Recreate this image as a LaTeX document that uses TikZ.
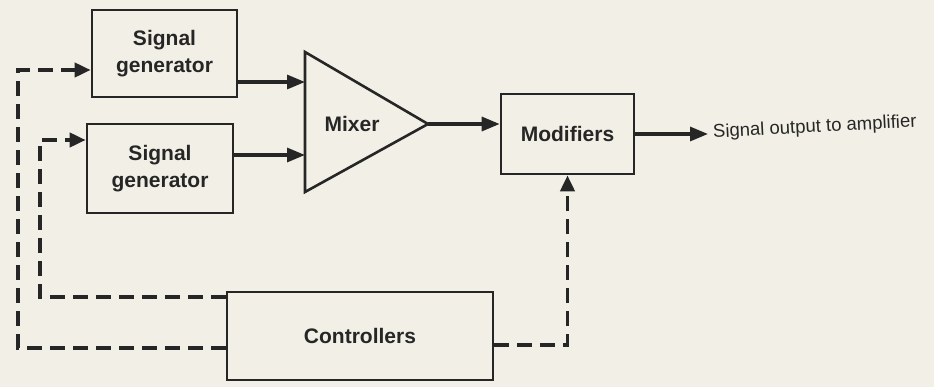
\documentclass[tikz,border=0pt]{standalone}
\usepackage{fontspec}
\setmainfont{Liberation Sans}
\usetikzlibrary{arrows.meta}
\definecolor{paper}{RGB}{242,240,230}
\definecolor{ink}{RGB}{38,38,38}
\tikzset{
  blk/.style={draw=ink, line width=2.6pt, minimum width=#1, align=center, text=ink,
              font=\bfseries\fontsize{21}{27}\selectfont, inner sep=0pt},
  arr/.style={draw=ink, line width=3.2pt, -{Triangle[length=18pt,width=14pt]}},
  dasharr/.style={draw=ink, line width=3.8pt, dash pattern=on 15pt off 8pt,
                  -{Triangle[length=16pt,width=14pt]}}
}
\begin{document}
\begin{tikzpicture}[x=1pt,y=-1pt]
\fill[paper] (0,0) rectangle (934,387);
\useasboundingbox (0,0) rectangle (934,387);
% blocks
\node[blk=145pt, minimum height=87pt] (g1) at (164.5,53.5) {Signal\\generator};
\node[blk=146pt, minimum height=89pt] (g2) at (160,168.5) {Signal\\generator};
\node[blk=133pt, minimum height=80pt] (mod) at (567.5,134) {Modifiers};
\node[blk=266pt, minimum height=88pt] (ctl) at (360,336) {Controllers};
% mixer triangle
\coordinate (mt) at (305,52);
\coordinate (mb) at (305,192);
\coordinate (ma) at (428,124);
\draw[ink, line width=2.6pt, line join=miter] (mt) -- (mb) -- (ma) -- cycle;
\node[text=ink, font=\bfseries\fontsize{21}{27}\selectfont] (mix) at (352,124) {Mixer};
% solid connectors
\draw[arr] (g1.east |- 0,82) -- (mt |- 0,82);
\draw[arr] (g2.east |- 0,155) -- (mt |- 0,155);
\draw[arr] (ma) -- (ma -| mod.west);
\coordinate (outend) at (708,134);
\draw[arr] (mod.east) -- (outend);
\node[anchor=west, text=ink, font=\fontsize{18.5}{22}\selectfont, rotate=3, inner sep=2pt] (outlbl) at (711,133) {Signal output to amplifier};
% dashed control lines
\coordinate (c1) at (18,70);
\coordinate (c2) at (40,140);
\draw[dasharr] (ctl.west |- 0,348) -| (c1) -- (g1.west |- c1);
\draw[dasharr] (ctl.west |- 0,297) -| (c2) -- (g2.west |- c2);
\draw[dasharr] (ctl.east |- 0,345) -| (mod.south);
\end{tikzpicture}
\end{document}
